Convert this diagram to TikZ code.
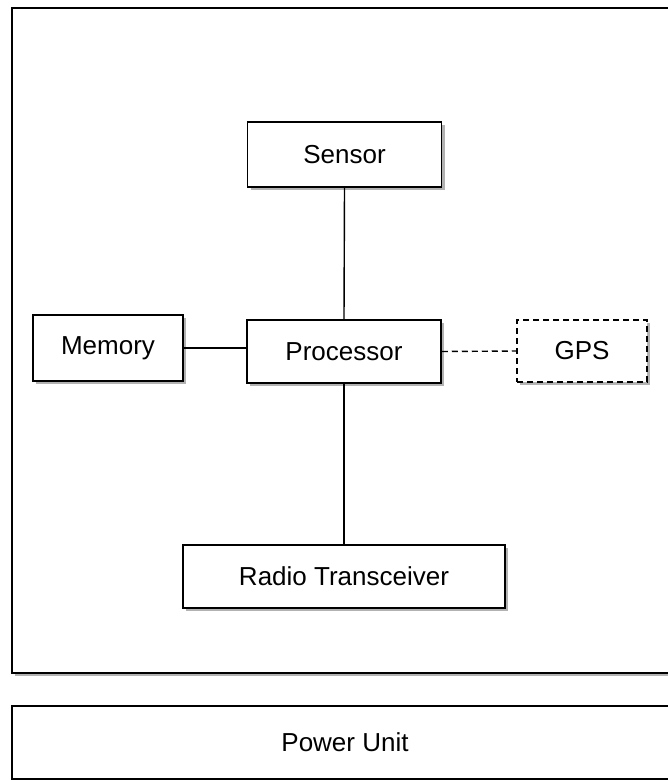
\documentclass[tikz,border=0pt]{standalone}
\usepackage{fontspec}
\setmainfont{Liberation Sans}
\usetikzlibrary{shadows}
\begin{document}
\begin{tikzpicture}[x=1pt,y=-1pt,
  shad/.style={drop shadow={shadow xshift=3pt,shadow yshift=-3pt,fill=black!30,opacity=1}},
  blk/.style={draw=black,line width=1.5pt,fill=white,shad,inner sep=0pt,
    font=\fontsize{26}{30}\selectfont,text=black},
  cont/.style={draw=black,line width=2pt,fill=white,shad,inner sep=0pt,
    font=\fontsize{26}{30}\selectfont,text=black},
  link/.style={draw=black,line width=1.4pt},
  dlink/.style={draw=black,line width=1.4pt,dash pattern=on 6pt off 4pt}]
\path[use as bounding box,clip] (0,0) rectangle (668,780);
\fill[white] (0,0) rectangle (668,780);
\node[cont,minimum width=666pt,minimum height=665pt] (outer) at (345,340.5) {};
\node[cont,minimum width=666pt,minimum height=73pt] (power) at (345,742) {Power Unit};
\node[blk,minimum width=194pt,minimum height=65pt] (sensor) at (344.5,154.5) {Sensor};
\node[blk,minimum width=150pt,minimum height=66pt] (memory) at (108,348) {Memory};
\node[blk,minimum width=194pt,minimum height=63pt] (proc) at (344,351.5) {Processor};
\node[blk,dash pattern=on 6pt off 4pt,minimum width=130pt,minimum height=62pt] (gps) at (582,351) {GPS};
\node[blk,minimum width=322pt,minimum height=63pt] (radio) at (344,576.5) {Radio Transceiver};
\draw[link] (sensor.south) -- (proc.north);
\draw[link] (memory.east) -- (memory.east -| proc.west);
\draw[dlink] (proc.east) -- (gps.west);
\draw[link] (proc.south) -- (radio.north);
\end{tikzpicture}
\end{document}
